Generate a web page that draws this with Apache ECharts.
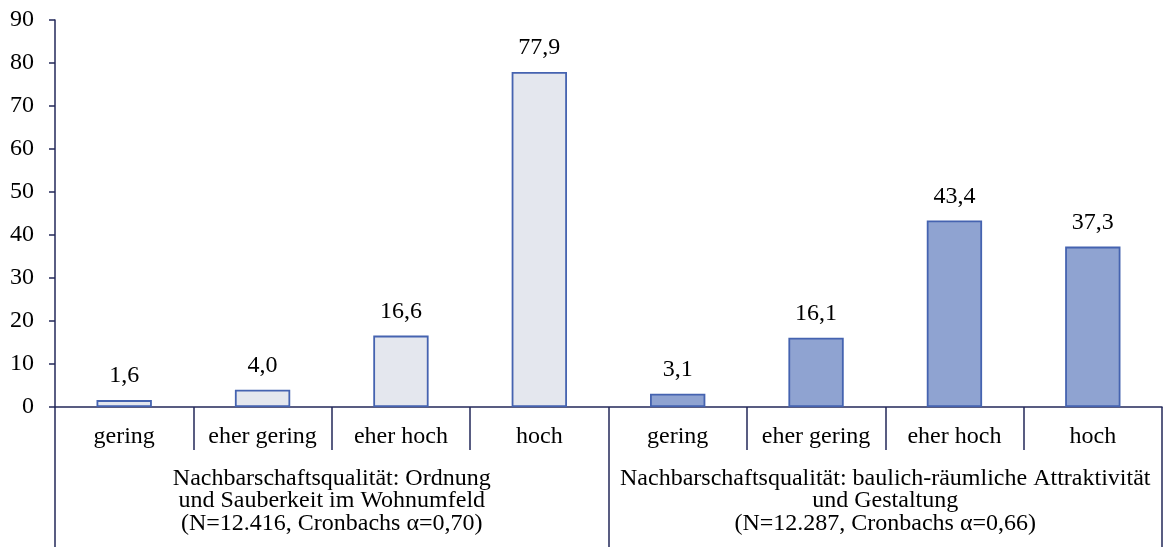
<!DOCTYPE html>
<html>
<head>
<meta charset="utf-8">
<script src="https://cdn.jsdelivr.net/npm/echarts@6/dist/echarts.min.js"></script>
<style>
  html, body { margin: 0; padding: 0; background: #fff; }
  #main { width: 1164px; height: 547px; }
</style>
</head>
<body>
<div id="main"></div>
<script type="text/javascript">
    // data
    var levels = ['gering', 'eher gering', 'eher hoch', 'hoch'];
    var groupNames = [
        'Nachbarschaftsqualität: Ordnung\nund Sauberkeit im Wohnumfeld\n(N=12.416, Cronbachs α=0,70)',
        'Nachbarschaftsqualität: baulich-räumliche Attraktivität\nund Gestaltung\n(N=12.287, Cronbachs α=0,66)'
    ];
    var ordnungValues = [1.6, 4.0, 16.6, 77.9];
    var gestaltungValues = [3.1, 16.1, 43.4, 37.3];

    var axisColor = '#23285a';
    var fontFam = 'Liberation Serif';
    var fs = 24;
    var groupFill = ['#e4e7ee', '#8fa3d1'];
    var groupBorder = ['#4563b0', '#4563b0'];

    var categories = levels.concat(levels);
    var barData = [];
    [ordnungValues, gestaltungValues].forEach(function (vals, g) {
        vals.forEach(function (v) {
            barData.push({
                value: v,
                itemStyle: { color: groupFill[g], borderColor: groupBorder[g], borderWidth: 1.8 }
            });
        });
    });

    var myChart = echarts.init(document.getElementById('main'));
    var option = {
        backgroundColor: '#fff',
        animation: false,
        textStyle: { fontFamily: fontFam },
        grid: { left: 55, right: 2, top: 20, bottom: 140 },
        xAxis: [
            {
                type: 'category',
                data: categories,
                position: 'bottom',
                axisLine: { lineStyle: { color: axisColor, width: 1.5 } },
                axisTick: { show: true, interval: 0, length: 43, lineStyle: { color: axisColor, width: 1.5 } },
                axisLabel: { interval: 0, margin: 18, color: '#000', fontSize: fs, fontFamily: fontFam }
            },
            {
                type: 'category',
                data: groupNames,
                position: 'bottom',
                axisLine: { show: false },
                axisTick: { show: true, interval: 0, length: 140, lineStyle: { color: axisColor, width: 1.5 } },
                axisLabel: { interval: 0, margin: 60, color: '#000', fontSize: fs, lineHeight: 22.5, fontFamily: fontFam, align: 'center' }
            }
        ],
        yAxis: {
            type: 'value',
            min: 0,
            max: 90,
            interval: 10,
            splitLine: { show: false },
            axisLine: { show: true, lineStyle: { color: axisColor, width: 1.5 } },
            axisTick: { show: true, length: 6, lineStyle: { color: axisColor, width: 1.5 } },
            axisLabel: { color: '#000', fontSize: fs, margin: 21, fontFamily: fontFam }
        },
        series: [
            {
                type: 'bar',
                xAxisIndex: 0,
                barWidth: '40%',
                data: barData,
                label: {
                    show: true,
                    position: 'top',
                    distance: 12,
                    color: '#000',
                    fontSize: fs,
                    fontFamily: fontFam,
                    formatter: function (p) { return p.value.toFixed(1).replace('.', ','); }
                }
            }
        ]
    };
    myChart.setOption(option);
</script>
</body>
</html>
